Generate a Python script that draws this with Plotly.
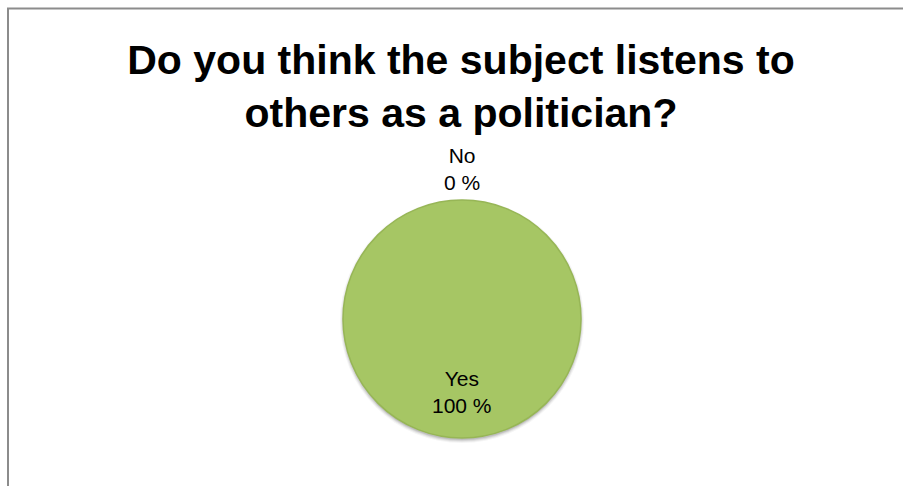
import plotly.graph_objects as go

# Survey answers and their shares (percent)
labels = ["Yes", "No"]
values = [100, 0]

title_text = "Do you think the subject listens to<br>others as a politician?"

W, H = 903, 486
cx, cy, r = 462, 319, 119  # pie centre and radius in pixels

fig = go.Figure(
    go.Pie(
        labels=labels,
        values=values,
        sort=False,
        direction="clockwise",
        rotation=0,
        textinfo="none",
        hoverinfo="label+percent",
        marker=dict(colors=["#a6c664", "#4f81bd"],
                    line=dict(color=["#97b656", "#97b656"], width=[1.5, 0])),
        domain=dict(x=[(cx - r) / W, (cx + r) / W],
                    y=[(H - cy - r) / H, (H - cy + r) / H]),
        showlegend=False,
    )
)

# Soft drop shadow under the pie
for grow, alpha in [(4, 0.04), (3, 0.06), (2, 0.08), (1, 0.10)]:
    fig.add_shape(type="circle", xref="paper", yref="paper", layer="below",
                  x0=(cx - r - grow + 1) / W, x1=(cx + r + grow - 1) / W,
                  y0=1 - (cy + r + grow + 1) / H, y1=1 - (cy - r - grow + 3) / H,
                  line=dict(width=0), fillcolor=f"rgba(0,0,0,{alpha})")

total = sum(values)
label_font = dict(family="Liberation Sans, Arial, sans-serif", size=21, color="#000000")

# Data labels: the large slice inside near the bottom, the empty slice above the pie
positions = {"Yes": (cx, 392), "No": (cx, 169)}
for lab, val in zip(labels, values):
    px, py = positions[lab]
    pct = round(100 * val / total)
    fig.add_annotation(
        x=px / W, y=1 - py / H, xref="paper", yref="paper",
        xanchor="center", yanchor="middle",
        text=f"{lab}<br>{pct} %", showarrow=False,
        font=label_font, align="center",
    )

# Outer chart frame (left and top edges visible)
fig.add_shape(type="rect", xref="paper", yref="paper",
              x0=8 / W, x1=1.05, y0=-0.05, y1=1 - 8.5 / H,
              line=dict(color="#8c8c8c", width=2))

fig.update_layout(
    width=W, height=H,
    margin=dict(l=0, r=0, t=0, b=0),
    paper_bgcolor="#ffffff",
    plot_bgcolor="#ffffff",
    title=dict(text=f"<b>{title_text}</b>", x=461 / W, xanchor="center",
               y=1 - 74 / H, yanchor="top",
               font=dict(family="Liberation Sans, Arial, sans-serif", size=41, color="#000000")),
)

fig.write_html("out.html")
